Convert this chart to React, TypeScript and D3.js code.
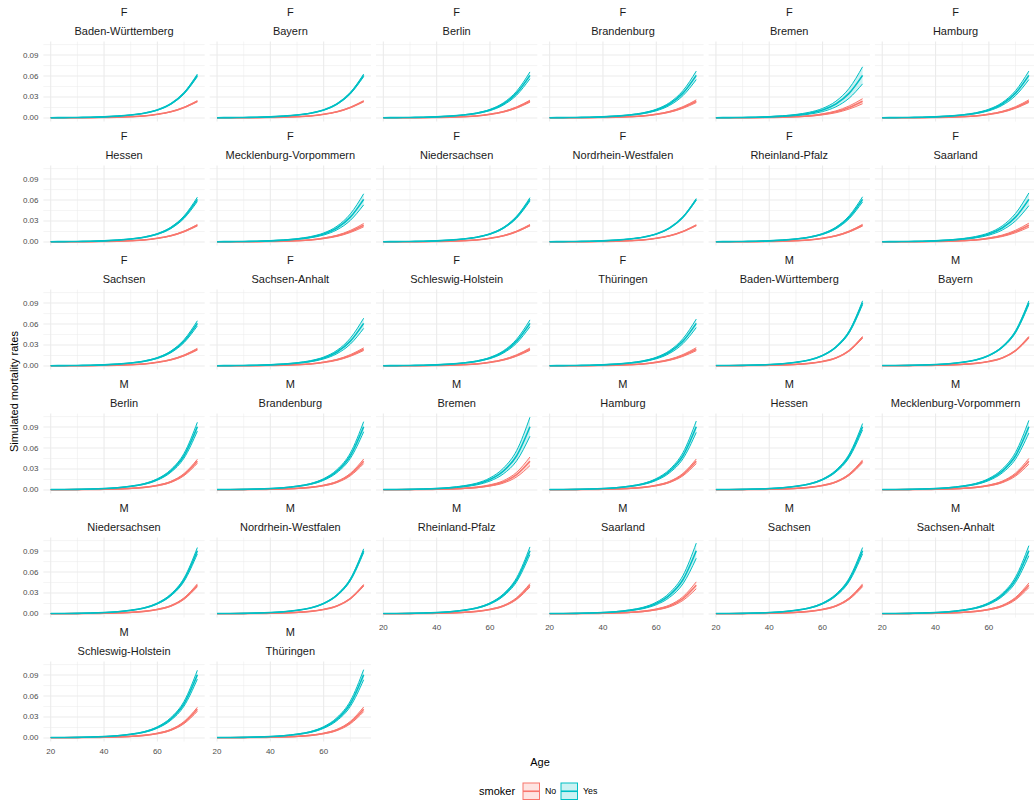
import React from "react";
import * as d3 from "d3";

const ages = [20, 25, 30, 35, 40, 45, 50, 55, 60, 65, 70, 75];

// median simulated mortality rates
const F_No = [0.0002, 0.0002, 0.0003, 0.0004, 0.0007, 0.0011, 0.0018, 0.0029, 0.0052, 0.0088, 0.015, 0.024];
const F_Yes = [0.0004, 0.0005, 0.0007, 0.001, 0.0016, 0.0026, 0.0042, 0.0068, 0.0114, 0.02, 0.0355, 0.061];
const M_No = [0.0004, 0.0004, 0.0005, 0.0007, 0.001, 0.0015, 0.0023, 0.0037, 0.0065, 0.0115, 0.022, 0.041];
const M_Yes = [0.0006, 0.0007, 0.0009, 0.0013, 0.002, 0.0032, 0.0052, 0.0085, 0.015, 0.027, 0.049, 0.0905];

const states = [
  "Baden-Württemberg", "Bayern", "Berlin", "Brandenburg", "Bremen", "Hamburg",
  "Hessen", "Mecklenburg-Vorpommern", "Niedersachsen", "Nordrhein-Westfalen",
  "Rheinland-Pfalz", "Saarland", "Sachsen", "Sachsen-Anhalt", "Schleswig-Holstein", "Thüringen",
];
const sexes = ["F", "M"];

// relative half-width of the simulation band per state
const bandF_No = [0.03, 0.03, 0.06, 0.08, 0.15, 0.08, 0.04, 0.1, 0.04, 0.02, 0.05, 0.12, 0.05, 0.08, 0.07, 0.09];
const bandF_Yes = [0.03, 0.03, 0.08, 0.1, 0.2, 0.1, 0.05, 0.13, 0.04, 0.02, 0.06, 0.15, 0.06, 0.12, 0.08, 0.1];
const bandM_No = [0.03, 0.03, 0.07, 0.08, 0.15, 0.08, 0.05, 0.1, 0.05, 0.03, 0.06, 0.12, 0.05, 0.08, 0.07, 0.08];
const bandM_Yes = [0.03, 0.03, 0.07, 0.08, 0.15, 0.09, 0.05, 0.1, 0.05, 0.03, 0.06, 0.12, 0.05, 0.08, 0.07, 0.08];

const smokerLevels = ["No", "Yes"];
const yTicks = [0, 0.03, 0.06, 0.09];
const yMinor = [0.015, 0.045, 0.075, 0.105];
const xTicks = [20, 40, 60];
const xMinor = [30, 50, 70];

const colors: Record<string, string> = { No: "#F8766D", Yes: "#00BFC4" };

type Pt = { age: number; lo: number; mid: number; hi: number };
type Panel = { sex: string; state: string; series: { smoker: string; pts: Pt[] }[] };

const panels: Panel[] = [];
sexes.forEach((sex) => {
  states.forEach((state, si) => {
    const baseNo = sex === "F" ? F_No : M_No;
    const baseYes = sex === "F" ? F_Yes : M_Yes;
    const bNo = sex === "F" ? bandF_No[si] : bandM_No[si];
    const bYes = sex === "F" ? bandF_Yes[si] : bandM_Yes[si];
    const mk = (base: number[], b: number): Pt[] =>
      ages.map((a, i) => ({ age: a, mid: base[i], lo: base[i] * (1 - b), hi: base[i] * (1 + b) }));
    panels.push({
      sex,
      state,
      series: [
        { smoker: "No", pts: mk(baseNo, bNo) },
        { smoker: "Yes", pts: mk(baseYes, bYes) },
      ],
    });
  });
});

const W = 1034;
const H = 804;
const NCOL = 6;
const left0 = 43.4;
const colStep = 166.3;
const panelW = 161.3;
const top0 = 41.6;
const rowStep = 124;
const panelH = 80;

const xExt = d3.extent(ages) as [number, number];
const xPad = (xExt[1] - xExt[0]) * 0.05;
const x = d3.scaleLinear().domain([xExt[0] - xPad, xExt[1] + xPad]).range([0, panelW]);
const yMaxData = d3.max(panels, (p) => d3.max(p.series, (s) => d3.max(s.pts, (d) => d.hi))) as number;
const yPad = yMaxData * 0.05;
const y = d3.scaleLinear().domain([-yPad, yMaxData + yPad]).range([panelH, 0]);

const line = (key: "lo" | "mid" | "hi") =>
  d3.line<Pt>().x((d) => x(d.age)).y((d) => y(d[key])).curve(d3.curveMonotoneX);
const area = d3
  .area<Pt>()
  .x((d) => x(d.age))
  .y0((d) => y(d.lo))
  .y1((d) => y(d.hi))
  .curve(d3.curveMonotoneX);

const FONT = "'Liberation Sans', Arial, sans-serif";

export default function App() {
  const n = panels.length;
  const nrow = Math.ceil(n / NCOL);
  return (
    <svg width={W} height={H} style={{ position: "absolute", left: 0, top: 0, background: "#fff" }} fontFamily={FONT}>
      {panels.map((p, i) => {
        const r = Math.floor(i / NCOL);
        const c = i % NCOL;
        const px = left0 + c * colStep;
        const py = top0 + r * rowStep;
        const isBottom = i + NCOL >= n;
        return (
          <g key={i} transform={`translate(${px},${py})`}>
            <text x={panelW / 2} y={-29.6} textAnchor="middle" dominantBaseline="central" fontSize={11} fill="#1A1A1A">
              {p.sex}
            </text>
            <text x={panelW / 2} y={-10.6} textAnchor="middle" dominantBaseline="central" fontSize={11} fill="#1A1A1A">
              {p.state}
            </text>
            {yMinor.map((t) => (
              <line key={"ym" + t} x1={0} x2={panelW} y1={y(t)} y2={y(t)} stroke="#EBEBEB" strokeWidth={0.55} />
            ))}
            {xMinor.map((t) => (
              <line key={"xm" + t} x1={x(t)} x2={x(t)} y1={0} y2={panelH} stroke="#EBEBEB" strokeWidth={0.55} />
            ))}
            {yTicks.map((t) => (
              <line key={"y" + t} x1={0} x2={panelW} y1={y(t)} y2={y(t)} stroke="#EBEBEB" strokeWidth={1.1} />
            ))}
            {xTicks.map((t) => (
              <line key={"x" + t} x1={x(t)} x2={x(t)} y1={0} y2={panelH} stroke="#EBEBEB" strokeWidth={1.1} />
            ))}
            {p.series.map((s) => (
              <g key={s.smoker}>
                <path d={area(s.pts) || ""} fill={colors[s.smoker]} fillOpacity={0.2} stroke="none" />
                <path d={line("lo")(s.pts) || ""} fill="none" stroke={colors[s.smoker]} strokeWidth={1} />
                <path d={line("hi")(s.pts) || ""} fill="none" stroke={colors[s.smoker]} strokeWidth={1} />
                <path d={line("mid")(s.pts) || ""} fill="none" stroke={colors[s.smoker]} strokeWidth={1.6} />
              </g>
            ))}
            {c === 0 &&
              yTicks.map((t) => (
                <text key={"yl" + t} x={-4.9} y={y(t)} textAnchor="end" dominantBaseline="central" fontSize={8} fill="#4D4D4D">
                  {d3.format(".2f")(t)}
                </text>
              ))}
            {isBottom &&
              xTicks.map((t) => (
                <text key={"xl" + t} x={x(t)} y={panelH + 10} textAnchor="middle" dominantBaseline="central" fontSize={8} fill="#4D4D4D">
                  {t}
                </text>
              ))}
          </g>
        );
      })}
      <text x={540} y={762} textAnchor="middle" dominantBaseline="central" fontSize={11} fill="#000">
        Age
      </text>
      <text
        transform={`translate(14,${top0 + ((nrow - 1) * rowStep + panelH) / 2}) rotate(-90)`}
        textAnchor="middle"
        dominantBaseline="central"
        fontSize={11}
        fill="#000"
      >
        Simulated mortality rates
      </text>
      <g>
        <text x={479} y={791} dominantBaseline="central" fontSize={11} fill="#000">
          smoker
        </text>
        {smokerLevels.map((s, i) => {
          const kx = 523 + i * 38;
          return (
            <g key={s}>
              <rect x={kx} y={783} width={16.5} height={16.5} fill={colors[s]} fillOpacity={0.2} stroke={colors[s]} strokeWidth={1} />
              <line x1={kx} x2={kx + 16.5} y1={791.25} y2={791.25} stroke={colors[s]} strokeWidth={1.6} />
              <text x={kx + 22} y={791} dominantBaseline="central" fontSize={8.8} fill="#000">
                {s}
              </text>
            </g>
          );
        })}
      </g>
    </svg>
  );
}
